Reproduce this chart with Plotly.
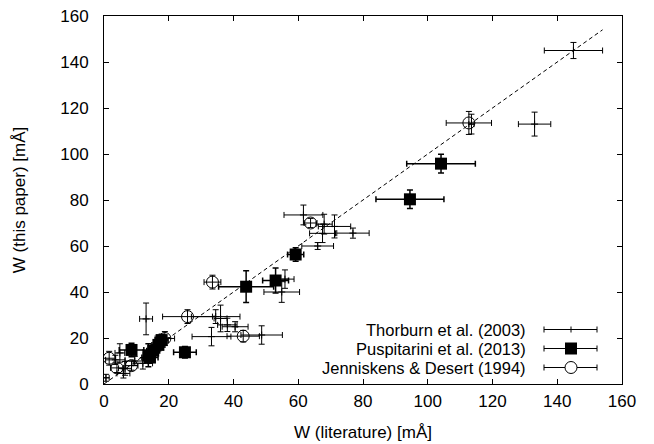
import plotly.graph_objects as go

# Thorburn et al. (2003)
th_x = [145, 133, 113.5, 61.6, 68.0, 71.2, 76.9, 67.5, 66.0, 55.9, 54.9, 48.7, 34.5, 36.0, 38.1, 40.5, 33.2, 13.0, 0.6, 6.5, 6.0, 4.9, 9.5, 12.0, 3.5]
th_y = [145, 113, 113, 73.5, 69.5, 68.5, 65.6, 65.5, 60.0, 45.6, 40.0, 21.3, 29.3, 28.5, 25.7, 24.9, 20.6, 28.3, 2.7, 6.8, 4.6, 13.5, 10.0, 9.0, 10.5]
th_xe = [9, 5, 0.8, 6, 2.5, 5, 5, 4, 4.9, 2.8, 5.5, 6.4, 7.5, 2, 3, 4, 6, 2, 1, 2, 2, 1.5, 3, 3, 3]
th_ye = [3.5, 5.2, 4.3, 4.3, 4.3, 5, 2.2, 4, 1.5, 4, 4.5, 4, 3, 5.8, 2.9, 2.2, 4, 6.9, 1.5, 3, 2, 4, 2, 2.5, 2]

# Puspitarini et al. (2013)
pu_x = [104.1, 94.5, 59.2, 53.0, 43.9, 25.0, 17.8, 16.8, 15.2, 14.2, 13.7, 8.5]
pu_y = [95.8, 80.3, 56.3, 45.0, 42.3, 13.8, 19.1, 17.0, 14.5, 11.5, 12.5, 14.8]
pu_xe = [10.6, 10.5, 2.5, 4, 8.5, 3.5, 2, 2, 2, 2.5, 1.5, 3.8]
pu_ye = [4.1, 4, 2.9, 5.4, 6.9, 2.5, 2.5, 2.5, 2.5, 2.5, 5, 2.9]

# Jenniskens & Desert (1994)
je_x = [112.7, 63.8, 33.5, 25.8, 43.0, 18.8, 1.6, 8.5, 4.0]
je_y = [113.5, 70.0, 44.3, 29.3, 20.8, 19.8, 11.2, 8.0, 7.0]
je_xe = [7, 2, 2.6, 7.7, 5, 3, 2, 2, 2]
je_ye = [5, 2, 3, 3, 2.5, 3, 3, 2, 2]

line_x = [0, 154]
line_y = [0, 154]

legend_names = ["Thorburn et al. (2003)", "Puspitarini et al. (2013)", "Jenniskens & Desert (1994)"]
x_ticks = [0, 20, 40, 60, 80, 100, 120, 140, 160]
y_ticks = [0, 20, 40, 60, 80, 100, 120, 140, 160]

FONT = "Liberation Sans, Arial, sans-serif"

fig = go.Figure()

fig.add_trace(go.Scatter(x=line_x, y=line_y, mode="lines",
                         line=dict(color="black", width=1, dash="4px,3px"),
                         showlegend=False, hoverinfo="skip"))

fig.add_trace(go.Scatter(
    x=th_x, y=th_y, mode="markers", name=legend_names[0],
    marker=dict(symbol="cross-thin", size=5, color="black", line=dict(color="black", width=1)),
    error_x=dict(type="data", array=th_xe, color="black", thickness=1, width=3),
    error_y=dict(type="data", array=th_ye, color="black", thickness=1, width=3),
    showlegend=False))

fig.add_trace(go.Scatter(
    x=pu_x, y=pu_y, mode="markers", name=legend_names[1],
    marker=dict(symbol="square", size=12, color="black"),
    error_x=dict(type="data", array=pu_xe, color="black", thickness=1.5, width=3),
    error_y=dict(type="data", array=pu_ye, color="black", thickness=1.5, width=3),
    showlegend=False))

fig.add_trace(go.Scatter(
    x=je_x, y=je_y, mode="markers", name=legend_names[2],
    marker=dict(symbol="circle-open", size=12, color="black", line=dict(color="black", width=1)),
    error_x=dict(type="data", array=je_xe, color="black", thickness=1, width=3),
    error_y=dict(type="data", array=je_ye, color="black", thickness=1, width=3),
    showlegend=False))

# Custom legend (gnuplot-style: text right, sample on the right)
W, H = 654, 444
ml, mr, mt, mb = 104, 32, 16, 60
pw, ph = W - ml - mr, H - mt - mb

def px(xp):
    return (xp - ml) / pw

def py(yp):
    return 1 - (yp - mt) / ph

rows = [329.5, 348.5, 367.5]
shapes = []
annotations = []
for i, (name, yr) in enumerate(zip(legend_names, rows)):
    annotations.append(dict(x=px(528), y=py(yr), xref="paper", yref="paper",
                            text=name, showarrow=False, xanchor="right", yanchor="middle",
                            font=dict(family=FONT, size=16.5, color="black")))
    y0 = py(yr)
    shapes.append(dict(type="line", xref="paper", yref="paper", x0=px(544), x1=px(597), y0=y0, y1=y0,
                       line=dict(color="black", width=1)))
    for xc in (544, 597):
        shapes.append(dict(type="line", xref="paper", yref="paper", x0=px(xc), x1=px(xc),
                           y0=py(yr - 3), y1=py(yr + 3), line=dict(color="black", width=1)))
    if i == 0:
        shapes.append(dict(type="line", xref="paper", yref="paper", x0=px(571), x1=px(571),
                           y0=py(yr - 3), y1=py(yr + 3), line=dict(color="black", width=1)))
    elif i == 1:
        shapes.append(dict(type="rect", xref="paper", yref="paper", x0=px(565), x1=px(577),
                           y0=py(yr + 6), y1=py(yr - 6), fillcolor="black", line=dict(color="black", width=0)))
    else:
        shapes.append(dict(type="circle", xref="paper", yref="paper", x0=px(565), x1=px(577),
                           y0=py(yr + 6), y1=py(yr - 6), fillcolor="white", line=dict(color="black", width=1)))

fig.update_layout(
    width=W, height=H,
    margin=dict(l=ml, r=mr, t=mt, b=mb),
    paper_bgcolor="white", plot_bgcolor="white",
    font=dict(family=FONT, size=17, color="black"),
    shapes=shapes, annotations=annotations,
    showlegend=False,
)
fig.update_xaxes(range=[0, 160], tickvals=x_ticks, ticks="inside", ticklen=5, tickcolor="black",
                 showline=True, linecolor="black", linewidth=1, mirror="ticks", showgrid=False,
                 zeroline=False, automargin=False,
                 title=dict(text="W (literature) [mÅ]", standoff=15, font=dict(size=17)),
                 tickfont=dict(size=17), ticklabelstandoff=2)
fig.update_yaxes(range=[0, 160], tickvals=y_ticks, ticks="inside", ticklen=5, tickcolor="black",
                 showline=True, linecolor="black", linewidth=1, mirror="ticks", showgrid=False,
                 zeroline=False, automargin=False,
                 title=dict(text="W (this paper) [mÅ]", standoff=30, font=dict(size=17)),
                 tickfont=dict(size=17), ticklabelstandoff=11)

fig.write_html("out.html")
